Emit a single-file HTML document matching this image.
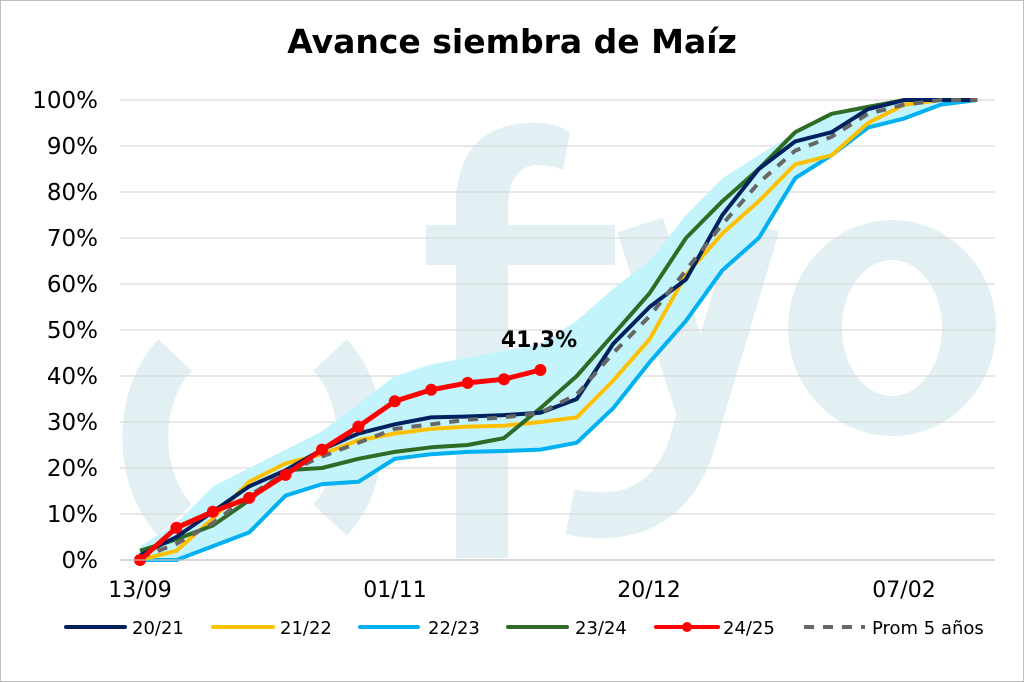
<!DOCTYPE html>
<html><head><meta charset="utf-8"><style>
html,body{margin:0;padding:0;background:#fff}
svg{display:block}
text{font-family:"DejaVu Sans","Liberation Sans",sans-serif}
</style></head><body>
<svg width="1024" height="682" viewBox="0 0 1024 682" xmlns="http://www.w3.org/2000/svg">
<rect x="0.5" y="0.5" width="1023" height="681" fill="#fff" stroke="#bfbfbf"/>
<g fill="#e2f0f4">
<path fill-rule="evenodd" d="M892 220 a104 108 0 1 0 0.1 0 Z M892 260 a50 68 0 1 1 -0.1 0 Z"/>
<rect x="456" y="190" width="52" height="368"/>
<rect x="426" y="225" width="189" height="40"/>
<path d="M456 200 Q460 120 540 123 Q560 124 570 133 L563 170 Q550 165 535 165 Q508 168 508 210 Z"/>
</g>
<g fill="none" stroke="#e2f0f4">
<path d="M175 355 A 78 105 0 0 0 175 520" stroke-width="46"/>
<path d="M330 355 A 78 105 0 0 1 330 520" stroke-width="46"/>
<path d="M640 225 L700 410" stroke-width="48"/>
<path d="M757 225 L690 450 Q660 530 570 512" stroke-width="46"/>
</g>
<text x="512" y="53" text-anchor="middle" font-size="33" font-weight="bold" fill="#000">Avance siembra de Maíz</text>
<g stroke="#d9d9d9" stroke-width="1.2">
<line x1="120" x2="995" y1="100" y2="100"/><line x1="120" x2="995" y1="146" y2="146"/>
<line x1="120" x2="995" y1="192" y2="192"/><line x1="120" x2="995" y1="238" y2="238"/>
<line x1="120" x2="995" y1="284" y2="284"/><line x1="120" x2="995" y1="330" y2="330"/>
<line x1="120" x2="995" y1="376" y2="376"/><line x1="120" x2="995" y1="422" y2="422"/>
<line x1="120" x2="995" y1="468" y2="468"/><line x1="120" x2="995" y1="514" y2="514"/>
</g>
<g font-size="23" fill="#000" text-anchor="end">
<text x="98" y="108">100%</text><text x="98" y="154">90%</text><text x="98" y="200">80%</text>
<text x="98" y="246">70%</text><text x="98" y="292">60%</text><text x="98" y="338">50%</text>
<text x="98" y="384">40%</text><text x="98" y="430">30%</text><text x="98" y="476">20%</text>
<text x="98" y="522">10%</text><text x="98" y="568">0%</text>
</g>
<g font-size="22" fill="#000" text-anchor="middle">
<text x="140" y="597">13/09</text><text x="395" y="597">01/11</text><text x="649" y="597">20/12</text><text x="904" y="597">07/02</text>
</g>
<g id="plot"></g>
<line x1="120" x2="995" y1="560" y2="560" stroke="#bfbfbf" stroke-width="1.2"/>
<text x="539" y="347" text-anchor="middle" font-size="22" font-weight="bold" fill="#000">41,3%</text>
<g stroke-width="4" stroke-linecap="round">
<line x1="66" y1="627" x2="125" y2="627" stroke="#002060"/>
<line x1="213" y1="627" x2="273" y2="627" stroke="#ffc000"/>
<line x1="360" y1="627" x2="418" y2="627" stroke="#00b0f0"/>
<line x1="508" y1="627" x2="567" y2="627" stroke="#2e6b24"/>
<line x1="656" y1="627" x2="718" y2="627" stroke="#ff0000"/>
<line x1="804" y1="627" x2="865" y2="627" stroke="#666" stroke-dasharray="10,9" stroke-linecap="butt"/>
</g>
<circle cx="687" cy="627" r="5" fill="#ff0000"/>
<g font-size="18" fill="#000">
<text x="132" y="634">20/21</text><text x="280" y="634">21/22</text><text x="428" y="634">22/23</text>
<text x="575" y="634">23/24</text><text x="723" y="634">24/25</text><text x="872" y="634">Prom 5 años</text>
</g>
</svg>
<script>
const X=i=>140+36.4*i, Y=v=>560-4.6*v;
const upper=[3,8,16,20,24,28,34,40,42.5,44,45.5,47,52,59,65,75,83,88,93,97,99,100,100,100];
const S={
navy:[1,5,10.5,16,19.5,24,27.5,29.5,31,31.2,31.5,32,35,47,55,61,75,85,91,93,98,100,100,100],
yel:[0,2,9,17,21,23,26,27.5,28.5,29,29.2,30,31,39,48,62,71,78,86,88,95,99,100,100],
cy:[0,0,3,6,14,16.5,17,22,23,23.5,23.7,24,25.5,33,43,52,63,70,83,88,94,96,99,100],
gr:[2,4.5,7.5,13,19.5,20,22,23.5,24.5,25,26.5,33,40,49,58,70,78,85,93,97,98.5,100,100,100],
avg:[0.5,3.5,8,14,19,22.5,25.5,28.5,29.5,30.5,31,32,36,45,53,63,73,82,89,92,97,99,100,100],
red:[0,7,10.5,13.5,18.5,24,29,34.5,37,38.5,39.3,41.3]};
const pts=a=>a.map((v,i)=>X(i).toFixed(1)+","+Y(v).toFixed(1)).join(" ");
let h="";
let band=upper.map((v,i)=>X(i)+","+Y(v));
for(let i=S.cy.length-1;i>=0;i--)band.push(X(i)+","+Y(S.cy[i]));
h+=`<polygon points="${band.join(" ")}" fill="#c4f4fb"/>`;
const L=(a,c,extra="")=>`<polyline points="${pts(a)}" fill="none" stroke="${c}" stroke-width="4" stroke-linejoin="round" ${extra}/>`;
h+=L(S.cy,"#00b0f0")+L(S.yel,"#ffc000")+L(S.gr,"#2e6b24")+L(S.navy,"#002060")+L(S.avg,"#666",'stroke-dasharray="10,9"');
h+=`<polyline points="${pts(S.red)}" fill="none" stroke="#ff0000" stroke-width="5" stroke-linejoin="round"/>`;
S.red.forEach((v,i)=>h+=`<circle cx="${X(i)}" cy="${Y(v)}" r="6" fill="#ff0000"/>`);
document.getElementById("plot").innerHTML=h;
</script>
</body></html>
